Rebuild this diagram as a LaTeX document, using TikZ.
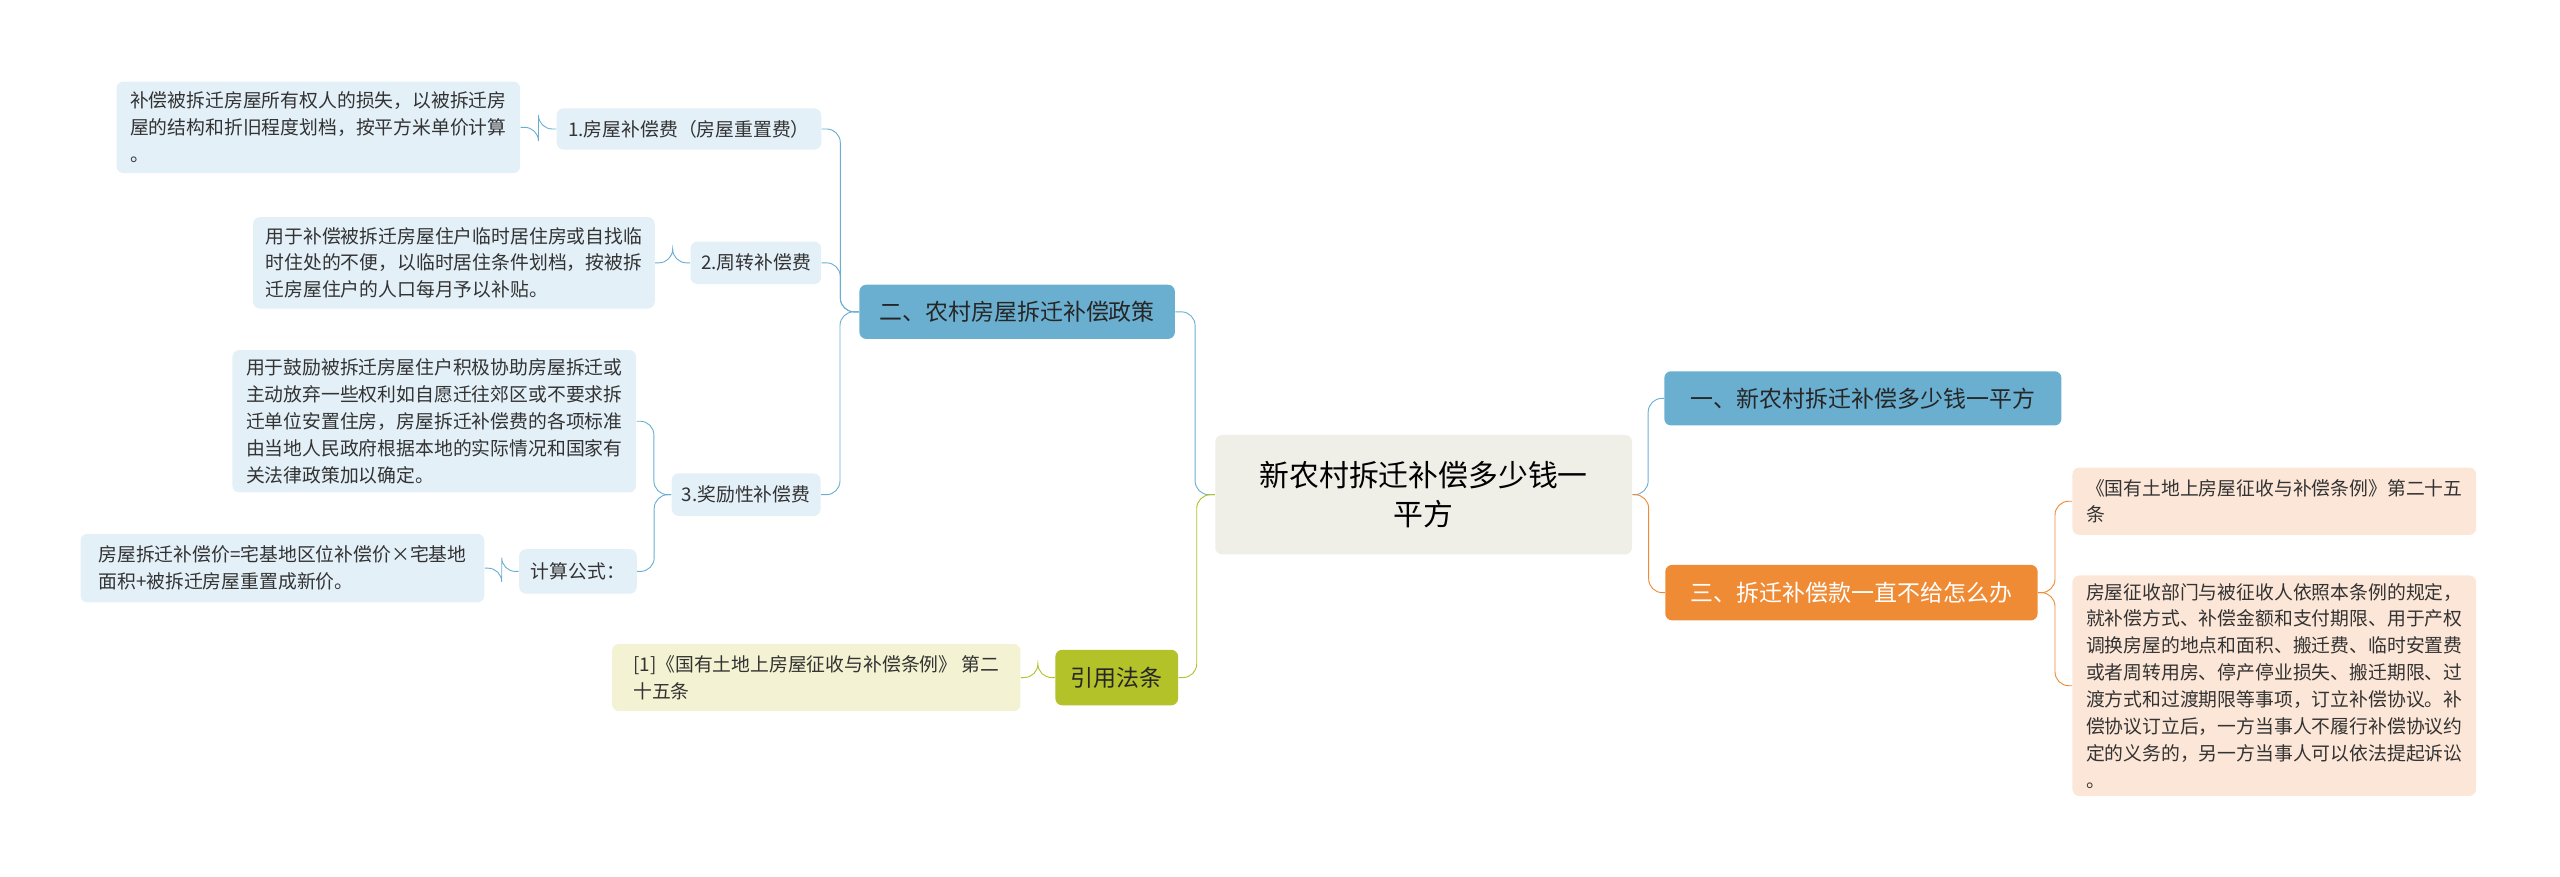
\documentclass[tikz,border=0pt]{standalone}
\usepackage{fontspec}
\setmainfont{Noto Sans CJK SC}
\usetikzlibrary{positioning}
\usetikzlibrary{calc}
\definecolor{lineblue}{HTML}{6AAFD0}
\definecolor{lineorange}{HTML}{F08B35}
\definecolor{lineolive}{HTML}{B3C229}
\definecolor{rootfill}{HTML}{EFEFE7}
\definecolor{leafblue}{HTML}{E3F0F8}
\definecolor{leaforange}{HTML}{FCE6D7}
\definecolor{leafolive}{HTML}{F3F2D2}
\tikzset {
  x=0.025cm, y=-0.025cm,
  % boxes
  root/.style={fill=rootfill, rounded corners=3pt, align=center, font=\fontsize{13}{17}\selectfont, inner sep=2pt},
  topic/.style={fill=lineblue, rounded corners=3pt, font=\fontsize{10}{12}\selectfont, text=black!85},
  topicO/.style={fill=lineorange, rounded corners=3pt, font=\fontsize{10}{12}\selectfont, text=white},
  topicG/.style={fill=lineolive, rounded corners=3pt, font=\fontsize{10}{12}\selectfont, text=black!85},
  sub/.style={fill=leafblue, rounded corners=3pt, font=\fontsize{8.2}{11.7}\selectfont, text=black!80},
  leaf/.style={fill=leafblue, rounded corners=3pt, align=left, font=\fontsize{8.2}{11.7}\selectfont, text=black!80, inner xsep=5pt},
  leafO/.style={leaf, fill=leaforange},
  leafG/.style={leaf, fill=leafolive},
  % connectors
  bus/.style={rounded corners=6pt, line width=0.8pt, to path={let \p1=(\tikztostart), \p2=(\tikztotarget) in
      -- ({(\x1+\x2)/2},\y1) -- ({(\x1+\x2)/2},\y2) -- (\p2)}},
}
\begin{document}
\begin{tikzpicture}
        \useasboundingbox (0,0) rectangle (1568,537);
        \node[root, minimum width=6.38cm, minimum height=1.83cm] (root) at (872,303) {新农村拆迁补偿多少钱一\\平方};

        \node[topic, minimum width=6.08cm, minimum height=0.83cm] (r1) at (1141,244) {一、新农村拆迁补偿多少钱一平方};
        \node[topicO, minimum width=5.7cm, minimum height=0.85cm] (r3) at (1134,363) {三、拆迁补偿款一直不给怎么办};
        \node[leafO, minimum width=6.18cm, minimum height=1.03cm] (rl1) at (1393,307) {《国有土地上房屋征收与补偿条例》第二十五\\条};
        \node[leafO, minimum width=6.18cm, minimum height=3.33cm] (rl2) at (1393,420) {房屋征收部门与被征收人依照本条例的规定，\\就补偿方式、补偿金额和支付期限、用于产权\\调换房屋的地点和面积、搬迁费、临时安置费\\或者周转用房、停产停业损失、搬迁期限、过\\渡方式和过渡期限等事项，订立补偿协议。补\\偿协议订立后，一方当事人不履行补偿协议约\\定的义务的，另一方当事人可以依法提起诉讼\\。};

        \node[topic, minimum width=4.83cm, minimum height=0.83cm] (l2) at (623,191) {二、农村房屋拆迁补偿政策};
        \node[topicG, minimum width=1.88cm, minimum height=0.85cm] (cite) at (684,415) {引用法条};
        \node[leafG, minimum width=6.25cm, minimum height=1.03cm] (citeleaf) at (500,415) {[1]《国有土地上房屋征收与补偿条例》 第二\\十五条};

        \node[sub, minimum width=4.05cm, minimum height=0.63cm] (s1) at (422,79) {1.房屋补偿费（房屋重置费）};
        \node[sub, minimum width=2.0cm, minimum height=0.65cm] (s2) at (463,161) {2.周转补偿费};
        \node[sub, minimum width=2.28cm, minimum height=0.65cm] (s3) at (457,303) {3.奖励性补偿费};
        \node[sub, minimum width=1.8cm, minimum height=0.68cm] (s4) at (354,350) {计算公式：};

        \node[leaf, minimum width=6.18cm, minimum height=1.4cm] (t1) at (195,78) {补偿被拆迁房屋所有权人的损失，以被拆迁房\\屋的结构和折旧程度划档，按平方米单价计算\\。};
        \node[leaf, minimum width=6.15cm, minimum height=1.4cm] (t2) at (278,161) {用于补偿被拆迁房屋住户临时居住房或自找临\\时住处的不便，以临时居住条件划档，按被拆\\迁房屋住户的人口每月予以补贴。};
        \node[leaf, minimum width=6.18cm, minimum height=2.18cm] (t3) at (266,258) {用于鼓励被拆迁房屋住户积极协助房屋拆迁或\\主动放弃一些权利如自愿迁往郊区或不要求拆\\迁单位安置住房，房屋拆迁补偿费的各项标准\\由当地人民政府根据本地的实际情况和国家有\\关法律政策加以确定。};
        \node[leaf, minimum width=6.18cm, minimum height=1.05cm] (t4) at (173,348) {房屋拆迁补偿价=宅基地区位补偿价×宅基地\\面积+被拆迁房屋重置成新价。};

        \draw[lineblue] (root.east) to[bus] (r1.west);
        \draw[lineorange] (root.east) to[bus] (r3.west);
        \draw[lineorange] (r3.east) to[bus] (rl1.west);
        \draw[lineorange] (r3.east) to[bus] (rl2.west);

        \draw[lineblue] (root.west) to[bus] (l2.east);
        \draw[lineolive] (root.west) to[bus] (cite.east);
        \draw[lineolive] (cite.west) to[bus] (citeleaf.east);

        \draw[lineblue] (l2.west) to[bus] (s1.east);
        \draw[lineblue] (l2.west) to[bus] (s2.east);
        \draw[lineblue] (l2.west) to[bus] (s3.east);
        \draw[lineblue] (s1.west) to[bus] (t1.east);
        \draw[lineblue] (s2.west) to[bus] (t2.east);
        \draw[lineblue] (s3.west) to[bus] (t3.east);
        \draw[lineblue] (s3.west) to[bus] (s4.east);
        \draw[lineblue] (s4.west) to[bus] (t4.east);
      \end{tikzpicture}
\end{document}
